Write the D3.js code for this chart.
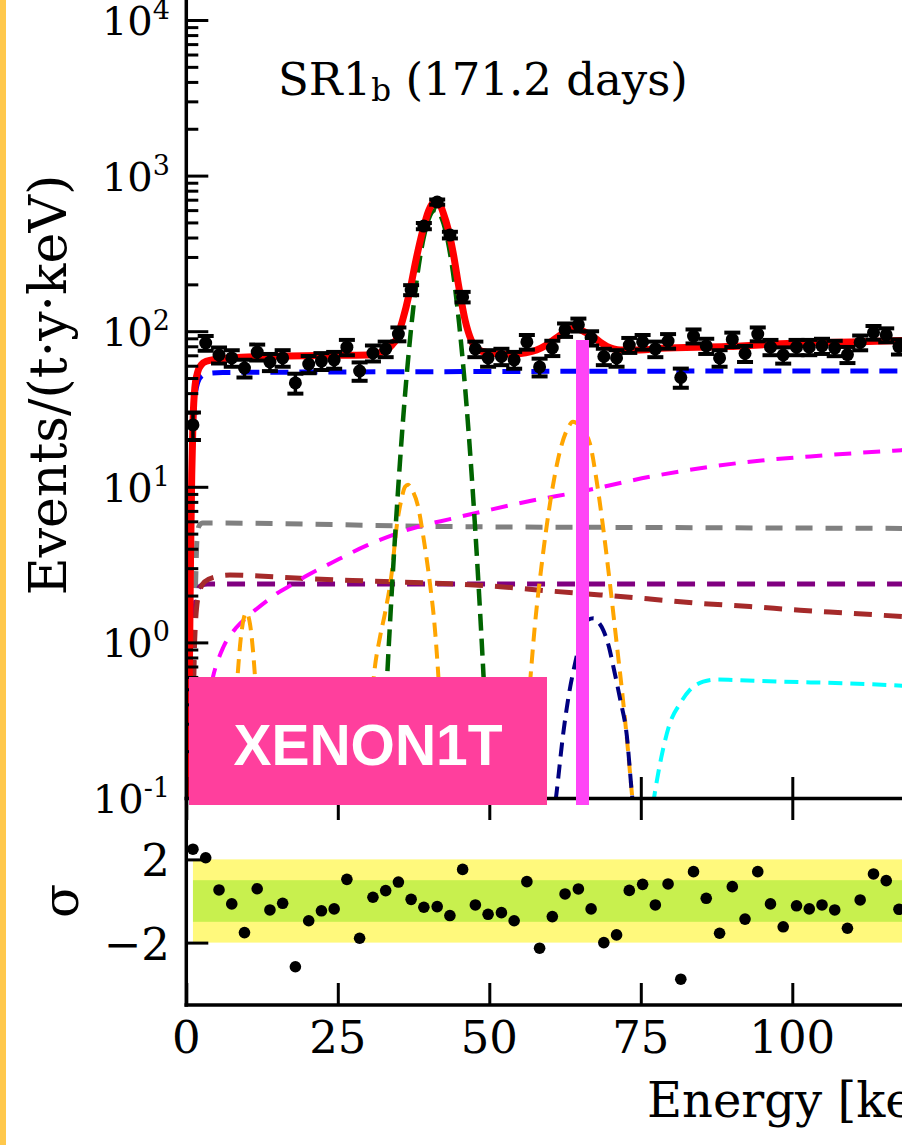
<!DOCTYPE html>
<html>
<head>
<meta charset="utf-8">
<script src="https://cdn.jsdelivr.net/npm/d3@7"></script>
<style>
  html, body { margin: 0; padding: 0; background: #ffffff; }
  svg { display: block; }
  text { font-family: "DejaVu Serif", serif; fill: #000; }
</style>
</head>
<body>
<svg id="chart" width="902" height="1145"></svg>
<script>
// ---- measured spectrum (bin centres in keV) ----
const energy = [1.1, 3.2, 5.4, 7.5, 9.6, 11.7, 13.8, 15.9, 18.0, 20.2, 22.3, 24.4, 26.5, 28.6,
  30.8, 32.9, 35.0, 37.1, 39.2, 41.4, 43.5, 45.6, 47.7, 49.8, 52.0, 54.1, 56.2, 58.3, 60.4,
  62.5, 64.7, 66.8, 68.9, 71.0, 73.1, 75.3, 77.4, 79.5, 81.6, 83.7, 85.8, 88.0, 90.1, 92.2,
  94.3, 96.4, 98.5, 100.7, 102.8, 104.9, 107.0, 109.1, 111.2, 113.4, 115.5, 117.6];

// events / (t·y·keV)
const rate = [25, 84, 70.3, 67.3, 58, 73.4, 63.4, 67.3, 46.5, 61.5, 64.3, 65.5, 79, 55.5,
  72.4, 76.9, 95.9, 184, 474, 676, 415, 166, 76.9, 67.3, 68.8, 65.5, 85.3, 58.9, 78,
  102, 110, 90.4, 68.8, 67.3, 81.5, 85.3, 76.9, 86.5, 50.4, 93, 80.4, 67.3, 88.5, 71.9,
  95.9, 79, 70.3, 79, 79, 80.4, 77.9, 70.8, 84.6, 98.1, 94.6, 79.7];

// symmetric statistical uncertainty on each rate
const rateErr = [5, 9.2, 8.4, 8.2, 7.6, 8.6, 8, 8.2, 6.8, 7.8, 8, 8.1, 8.9, 7.5,
  8.5, 8.8, 9.8, 13.6, 21.8, 26, 20.4, 12.9, 8.8, 8.2, 8.3, 8.1, 9.2, 7.7, 8.8,
  10.1, 10.5, 9.5, 8.3, 8.2, 9, 9.2, 8.8, 9.3, 7.1, 9.6, 9, 8.2, 9.4, 8.5,
  9.8, 8.9, 8.4, 8.9, 8.9, 9, 8.8, 8.4, 9.2, 9.9, 9.7, 8.9];

// (data - fit) / error
const residual = [2.49, 2.08, 0.53, -0.14, -1.52, 0.59, -0.43, -0.11, -3.16, -0.95, -0.47, -0.38,
  1.04, -1.79, 0.18, 0.50, 0.91, 0.08, -0.30, -0.27, -0.70, 1.52, -0.19, -0.64, -0.56, -0.95,
  0.93, -2.27, -0.75, 0.34, 0.58, -0.38, -2.00, -1.63, 0.51, 0.80, -0.19, 0.82, -3.76, 1.41,
  0.13, -1.55, 0.69, -0.87, 1.41, -0.14, -1.24, -0.23, -0.38, -0.19, -0.43, -1.31, 0.05,
  1.30, 0.98, -0.40];

// ---- fitted model: [energy keV, rate] knots ----
const curveTotal = [[0.3,0.1],[0.5,0.6],[0.7,3.5],[0.9,12],[1.1,26],[1.4,43],[1.9,55],[2.5,61],
  [3.3,64],[5,66],[11,68.6],[22,69.8],[30,70.3],[32,73],[33,75.7],[34,82],[34.6,88],[35.7,118],
  [36.8,175],[37.9,287],[39,440],[40,595],[40.6,660],[41.2,690],[41.8,660],[42.4,575],[43.2,455],
  [44,325],[45,190],[46,118],[47,88],[48,77],[49.6,73],[52,71.5],[54,71],[56,72.5],[57.8,75.7],
  [59.3,81],[60.6,88],[62,96],[62.8,101],[63.8,104],[64.5,103.5],[65.5,100],[67.2,92],[68.3,85],
  [69.4,80],[70.5,77],[71.6,75.7],[74.9,75.7],[78.2,77.6],[89.2,79.6],[100.2,83.6],[111.2,85.7],
  [120,87.5]];
const curveFlat = [[0.3,0.1],[0.5,0.45],[0.7,2.8],[0.9,9.5],[1.1,21],[1.4,36],[1.9,47],[2.5,51.5],
  [3.5,53.5],[6,54.3],[20,54.6],[60,55.2],[120,55.6]];
const curvePeak41 = [[32,0.071],[33,0.466],[34,2.45],[35,10.3],[36,35.1],[37,95.8],[38,210],
  [39,371],[40,526],[41.1,600],[42,549],[43,405],[44,240],[45,114],[46,43.7],[47,13.4],[48,3.31],
  [49,0.66],[50,0.105],[50.5,0.035]];
const curveLine10 = [[7,0.034],[7.5,0.113],[8,0.30],[8.5,0.636],[9,1.07],[9.5,1.44],[9.9,1.55],
  [10.5,1.32],[11,0.89],[11.5,0.48],[12,0.21],[12.5,0.072],[13,0.02]];
const curveLine36 = [[29.5,0.07],[30.5,0.38],[31,0.63],[32,1.1],[32.8,1.55],[33.9,2.8],[34.7,5.5],
  [35.5,8.3],[36.1,10],[36.6,10.3],[37.3,9.5],[38.2,7.6],[39.2,4.55],[40.2,2.4],[41,1.25],
  [41.6,0.6],[42.2,0.22],[42.8,0.07]];
const curveLine64 = [[55.8,0.2],[56.8,0.6],[57.5,1.26],[58.6,3.06],[60.1,8.2],[61.7,17.2],[63,24],
  [63.8,26.2],[64.8,25],[65.7,22.5],[66.6,19],[67.7,11],[68.7,5.8],[69.9,2.4],[71,1.0],[72,0.45],
  [72.8,0.22],[73.5,0.11],[74,0.07]];
const curveLine67 = [[60.5,0.07],[61.1,0.108],[62.2,0.26],[63,0.43],[64.4,0.81],[65.5,1.2],
  [66.3,1.4],[67.2,1.43],[68,1.35],[68.8,1.2],[69.7,0.95],[70.5,0.69],[71.6,0.43],[72.7,0.25],
  [73.5,0.11],[74,0.07]];
const curveStep80 = [[77,0.09],[77.3,0.107],[78.4,0.184],[79.8,0.302],[81.5,0.406],[83.1,0.495],
  [85.3,0.559],[87.5,0.578],[90.3,0.574],[98.5,0.559],[109.5,0.545],[120,0.522]];
const curveGrey = [[1.0,0.1],[1.3,1.0],[1.55,2.5],[1.75,4.5],[2.1,5.6],[2.7,5.85],[5,5.85],
  [20,5.75],[43.5,5.55],[80,5.47],[120,5.4]];
const curvePurple = [[0.9,0.1],[1.1,0.5],[1.25,1.0],[1.5,1.7],[1.9,2.15],[2.5,2.33],[3.5,2.37],
  [120,2.37]];
const curveBrown = [[1.0,0.1],[1.2,0.5],[1.5,1.3],[2,2.0],[3,2.45],[5,2.65],[7.2,2.71],[12,2.67],
  [18.8,2.58],[30,2.48],[43.5,2.38],[51.8,2.28],[60,2.14],[68.3,2.02],[76.5,1.9],[84.8,1.78],
  [93,1.7],[101.3,1.61],[109.5,1.54],[120,1.45]];
const curveRising = [[3.2,0.35],[4.4,0.6],[6.1,0.93],[8.3,1.25],[10,1.45],[13.3,1.85],[15,2.07],
  [17.6,2.37],[20,2.7],[24,3.25],[29.8,4.2],[35.3,5.1],[38.7,5.6],[43.5,6.2],[50,7.1],[56.7,8.1],
  [65,9.3],[76.5,11.6],[93,14.5],[105,15.9],[118,17.2],[120,17.4]];

// ---- axes ----
const xTicks = [0, 25, 50, 75, 100, 125];
const yMajor = [0.1, 1, 10, 100, 1000, 10000];
const yMajorExp = ["-1", "0", "1", "2", "3", "4"];
const resTicks = [-2, 2];
const resTickLabels = ["\u22122", "2"];

// ---- layout ----
const W = 902;
const svg = d3.select("#chart");
const x = d3.scaleLinear().domain([0, 125]).range([186.3, 943.8]);
const y = d3.scaleLog().domain([0.1, 1e4]).range([798, 20]);
const yr = d3.scaleLinear().domain([-5, 5]).range([1005, 797]);

// page edge strip
svg.append("rect").attr("x", 0).attr("y", 0).attr("width", 6).attr("height", 1145).attr("fill", "#ffc84c");

svg.append("defs").append("clipPath").attr("id", "topClip")
  .append("rect").attr("x", 186.3).attr("y", -60).attr("width", 800).attr("height", 858);

// residual bands
const gRes = svg.append("g");
gRes.append("rect").attr("x", x(1.1)).attr("width", x(125) - x(1.1))
  .attr("y", yr(2)).attr("height", yr(-2) - yr(2)).attr("fill", "#fff97c");
gRes.append("rect").attr("x", x(1.1)).attr("width", x(125) - x(1.1))
  .attr("y", yr(1)).attr("height", yr(-1) - yr(1)).attr("fill", "#c8f04e");
gRes.selectAll("circle").data(energy).join("circle")
  .attr("cx", d => x(d)).attr("cy", (d, i) => yr(residual[i])).attr("r", 5.8).attr("fill", "#000");

// model components
const line = d3.line().x(d => x(d[0])).y(d => y(d[1])).curve(d3.curveMonotoneX);
const gCurves = svg.append("g").attr("clip-path", "url(#topClip)");
const comps = [
  { pts: curveGrey, color: "#808080", w: 5, dash: "17,13" },
  { pts: curvePurple, color: "#800080", w: 5, dash: "18,12" },
  { pts: curveBrown, color: "#a52a2a", w: 5, dash: "18,12" },
  { pts: curveRising, color: "#ff00ff", w: 4, dash: "17,12" },
  { pts: curveStep80, color: "#00ffff", w: 4, dash: "14,8" },
  { pts: curveLine10, color: "#ffa500", w: 4, dash: "14,8" },
  { pts: curveLine36, color: "#ffa500", w: 4, dash: "14,8" },
  { pts: curveLine64, color: "#ffa500", w: 4, dash: "14,8" },
  { pts: curveLine67, color: "#000080", w: 4, dash: "14,8" },
  { pts: curvePeak41, color: "#006400", w: 4.5, dash: "17,8" },
  { pts: curveFlat, color: "#0000ff", w: 5, dash: "18,11" }
];
comps.forEach(c => {
  gCurves.append("path").attr("d", line(c.pts)).attr("fill", "none")
    .attr("stroke", c.color).attr("stroke-width", c.w).attr("stroke-dasharray", c.dash);
});
gCurves.append("path").attr("d", line(curveTotal)).attr("fill", "none")
  .attr("stroke", "#ff0000").attr("stroke-width", 7).attr("stroke-linejoin", "round");

// data with error bars
const gData = svg.append("g").attr("clip-path", "url(#topClip)");
const pts = gData.selectAll("g").data(energy).join("g");
pts.append("line").attr("x1", d => x(d)).attr("x2", d => x(d))
  .attr("y1", (d, i) => y(rate[i] + rateErr[i])).attr("y2", (d, i) => y(rate[i] - rateErr[i]))
  .attr("stroke", "#000").attr("stroke-width", 3.5);
[1, -1].forEach(s => {
  pts.append("line").attr("x1", d => x(d) - 8).attr("x2", d => x(d) + 8)
    .attr("y1", (d, i) => y(rate[i] + s * rateErr[i])).attr("y2", (d, i) => y(rate[i] + s * rateErr[i]))
    .attr("stroke", "#000").attr("stroke-width", 4);
});
pts.append("circle").attr("cx", d => x(d)).attr("cy", (d, i) => y(rate[i])).attr("r", 6.5).attr("fill", "#000");

// axes
const axStyle = g => {
  g.select(".domain").remove();
  g.selectAll(".tick line").attr("stroke", "#000").attr("stroke-width", 3);
};
svg.append("g").attr("transform", "translate(186.3,0)")
  .call(d3.axisLeft(y).tickValues(yMajor).tickSize(-22).tickFormat(""))
  .call(axStyle);
const minors = [];
[-1, 0, 1, 2, 3, 4].forEach(k => { for (let j = 2; j <= 9; j++) minors.push(j * Math.pow(10, k)); });
const yMinor = y.copy().domain([0.1, 1e5]).range([798, 20 - 155.6]);
svg.append("g").attr("transform", "translate(186.3,0)")
  .call(d3.axisLeft(yMinor).tickValues(minors).tickSize(-12).tickFormat(""))
  .call(axStyle);
svg.append("g").attr("transform", "translate(0,798)")
  .call(d3.axisBottom(x).tickValues(xTicks).tickSize(-21).tickFormat("")).call(axStyle);
svg.append("g").attr("transform", "translate(0,799)")
  .call(d3.axisTop(x).tickValues(xTicks).tickSize(-21).tickFormat("")).call(axStyle);
svg.append("g").attr("transform", "translate(0,1005)")
  .call(d3.axisBottom(x).tickValues(xTicks).tickSize(-22).tickFormat("")).call(axStyle);
svg.append("g").attr("transform", "translate(186.3,0)")
  .call(d3.axisLeft(yr).tickValues(resTicks).tickSize(-22).tickFormat("")).call(axStyle);

// spines
const spine = (x1, y1, x2, y2) => svg.append("line").attr("x1", x1).attr("y1", y1)
  .attr("x2", x2).attr("y2", y2).attr("stroke", "#000").attr("stroke-width", 3.5);
spine(186.3, -5, 186.3, 1006.7);
spine(184.5, 798.5, 960, 798.5);
spine(184.5, 1005, 960, 1005);

// tick labels
const yLab = svg.append("g");
yMajor.forEach((v, i) => {
  const t = yLab.append("text").attr("x", 170).attr("y", y(v) + 15).attr("text-anchor", "end")
    .style("font-size", "40px");
  t.append("tspan").text("10");
  t.append("tspan").attr("dy", -16).style("font-size", "27px").text(yMajorExp[i]);
});
resTicks.forEach((v, i) => {
  svg.append("text").attr("x", 170).attr("y", yr(v) + 17).attr("text-anchor", "end")
    .style("font-size", "45px").text(resTickLabels[i]);
});
xTicks.filter(v => x(v) < W - 30).forEach(v => {
  svg.append("text").attr("x", x(v)).attr("y", 1053).attr("text-anchor", "middle")
    .style("font-size", "45px").text(String(v));
});

// axis titles
svg.append("text").attr("transform", "translate(66,385) rotate(-90)").attr("text-anchor", "middle")
  .style("font-size", "52px").text("Events/(t\u00b7y\u00b7keV)");
svg.append("text").attr("transform", "translate(78,901) rotate(-90)").attr("text-anchor", "middle")
  .style("font-size", "50px").text("\u03c3");
svg.append("text").attr("x", 647).attr("y", 1117).style("font-size", "48px").text("Energy [keV]");

// panel title
const title = svg.append("text").attr("x", 278).attr("y", 95).style("font-size", "45px");
title.append("tspan").text("SR1");
title.append("tspan").attr("dy", 6).style("font-size", "31px").text("b");
title.append("tspan").attr("dy", -6).text(" (171.2 days)");

// highlight bar
svg.append("rect").attr("x", 576).attr("y", 340).attr("width", 13).attr("height", 465).attr("fill", "#ff45f6");

// badge
svg.append("rect").attr("x", 189).attr("y", 677).attr("width", 358).attr("height", 128).attr("fill", "#ff3f9d");
svg.append("text").attr("x", 368).attr("y", 765).attr("text-anchor", "middle")
  .style("font-family", "'Liberation Sans', Arial, sans-serif").style("font-size", "57px")
  .style("font-weight", "bold").style("fill", "#ffffff").text("XENON1T");
</script>
</body>
</html>
